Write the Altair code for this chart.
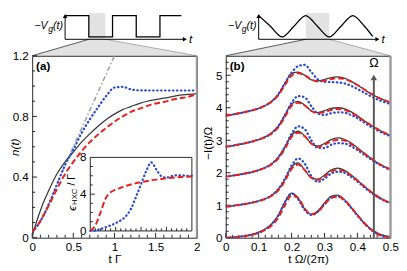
import altair as alt
import pandas as pd

FONT = "Liberation Sans"
INK = "#222222"
BLACK = "#3a3a3a"
RED = "#e8211c"
BLUE = "#2548d8"
GREY = "#9c9c9c"
SHADE = "#e2e2e2"

# ---------------- panel (a): n(t) ----------------
T_A = [0, 0.05, 0.1, 0.15, 0.2, 0.3, 0.4, 0.5, 0.6, 0.7, 0.8, 0.9, 1.0, 1.1, 1.2,
       1.3, 1.4, 1.5, 1.6, 1.7, 1.8, 1.9, 2.0]
N_EXACT = [0.01, 0.10, 0.18, 0.25, 0.31, 0.42, 0.50, 0.565, 0.63, 0.685, 0.735, 0.78,
           0.815, 0.845, 0.865, 0.885, 0.90, 0.91, 0.92, 0.93, 0.94, 0.945, 0.95]
N_RED = [0.04, 0.07, 0.11, 0.16, 0.21, 0.32, 0.42, 0.50, 0.57, 0.63, 0.68, 0.725,
         0.765, 0.80, 0.83, 0.85, 0.87, 0.885, 0.895, 0.91, 0.92, 0.93, 0.948]
N_BLUE = [0.04, 0.07, 0.11, 0.16, 0.22, 0.35, 0.48, 0.58, 0.69, 0.78, 0.86, 0.935,
          0.99, 0.995, 0.978, 0.972, 0.971, 0.971, 0.971, 0.971, 0.971, 0.971, 0.971]
T_GREY = [0, 0.05, 0.1, 0.15, 0.2, 0.3, 0.4, 0.5, 0.6, 0.7, 0.8, 0.9, 1.0]
N_GREY = [0.04, 0.07, 0.11, 0.16, 0.22, 0.35, 0.48, 0.60, 0.72, 0.84, 0.96, 1.08, 1.20]

# inset of (a): eps_HXC / Gamma
T_IN = [0, 0.1, 0.2, 0.3, 0.4, 0.5, 0.6, 0.7, 0.8, 0.9, 1.0, 1.1, 1.2, 1.3, 1.4,
        1.5, 1.6, 1.7, 1.8, 1.9, 2.0]
E_RED = [0.05, 0.6, 2.0, 3.5, 4.2, 4.5, 4.7, 4.9, 5.05, 5.2, 5.3, 5.4, 5.5, 5.58,
         5.65, 5.72, 5.78, 5.83, 5.87, 5.9, 5.93]
E_BLUE = [0.0, 0.05, 0.2, 0.4, 0.6, 0.85, 1.15, 1.6, 2.4, 3.7, 5.1, 6.5, 7.45, 6.7,
          5.95, 5.8, 5.95, 6.05, 6.05, 6.0, 6.0]

# ---------------- panel (b): -I(t)/Omega, five curve families ----------------
X_B = [0, .02, .04, .06, .08, .10, .12, .14, .16, .18, .20, .22, .24, .26, .28,
       .30, .32, .34, .36, .38, .40, .42, .44, .46, .48, .50]

I_EXACT_1 = [0.00, 0.01, 0.03, 0.06, 0.10, 0.17, 0.27, 0.43, 0.70, 1.10, 1.37, 1.22, 0.88,
             0.72, 0.83, 1.07, 1.27, 1.31, 1.18, 0.95, 0.70, 0.47, 0.28, 0.15, 0.07, 0.03]
I_RED_1 = [0.00, 0.01, 0.02, 0.05, 0.09, 0.15, 0.24, 0.38, 0.62, 1.00, 1.30, 1.22, 0.90,
           0.72, 0.80, 1.02, 1.22, 1.27, 1.17, 0.95, 0.70, 0.46, 0.26, 0.12, 0.04, 0.00]
I_BLUE_1 = [0.00, 0.01, 0.03, 0.06, 0.10, 0.16, 0.26, 0.42, 0.69, 1.10, 1.36, 1.18, 0.85,
            0.70, 0.80, 1.03, 1.23, 1.27, 1.15, 0.93, 0.68, 0.45, 0.26, 0.13, 0.05, 0.01]

I_EXACT_2 = [0.95, 0.98, 1.01, 1.04, 1.08, 1.13, 1.20, 1.31, 1.50, 1.80, 2.18, 2.30, 2.08,
             1.84, 1.80, 1.93, 2.08, 2.14, 2.08, 1.94, 1.77, 1.59, 1.42, 1.28, 1.16, 1.08]
I_RED_2 = [0.95, 0.98, 1.01, 1.04, 1.08, 1.13, 1.19, 1.29, 1.46, 1.75, 2.12, 2.25, 2.08,
           1.85, 1.78, 1.88, 2.03, 2.09, 2.05, 1.92, 1.76, 1.59, 1.42, 1.28, 1.16, 1.07]
I_BLUE_2 = [0.95, 0.98, 1.01, 1.04, 1.08, 1.13, 1.20, 1.31, 1.50, 1.82, 2.22, 2.44, 2.28,
            1.90, 1.72, 1.82, 1.97, 2.03, 2.00, 1.88, 1.73, 1.56, 1.40, 1.26, 1.15, 1.06]

I_EXACT_3 = [1.88, 1.91, 1.94, 1.98, 2.02, 2.08, 2.16, 2.28, 2.48, 2.80, 3.16, 3.28, 3.13,
             2.90, 2.82, 2.90, 3.02, 3.07, 3.03, 2.92, 2.77, 2.61, 2.45, 2.31, 2.20, 2.11]
I_RED_3 = [1.88, 1.91, 1.94, 1.98, 2.02, 2.08, 2.15, 2.26, 2.44, 2.74, 3.10, 3.23, 3.12,
           2.90, 2.80, 2.86, 2.97, 3.01, 2.99, 2.89, 2.75, 2.60, 2.45, 2.31, 2.20, 2.10]
I_BLUE_3 = [1.88, 1.91, 1.94, 1.98, 2.02, 2.08, 2.16, 2.28, 2.48, 2.80, 3.20, 3.43, 3.34,
            3.00, 2.76, 2.76, 2.86, 2.91, 2.90, 2.82, 2.70, 2.56, 2.42, 2.29, 2.18, 2.09]

I_EXACT_4 = [2.80, 2.83, 2.87, 2.91, 2.96, 3.02, 3.10, 3.23, 3.44, 3.78, 4.12, 4.20, 4.08,
             3.90, 3.85, 3.91, 3.98, 4.00, 3.97, 3.88, 3.75, 3.61, 3.47, 3.35, 3.24, 3.16]
I_RED_4 = [2.80, 2.83, 2.87, 2.91, 2.96, 3.02, 3.10, 3.21, 3.40, 3.72, 4.06, 4.15, 4.07,
           3.90, 3.84, 3.87, 3.93, 3.96, 3.94, 3.86, 3.74, 3.60, 3.47, 3.35, 3.24, 3.15]
I_BLUE_4 = [2.80, 2.83, 2.87, 2.91, 2.96, 3.02, 3.10, 3.23, 3.44, 3.78, 4.15, 4.36, 4.32,
            4.05, 3.82, 3.78, 3.83, 3.86, 3.85, 3.78, 3.68, 3.55, 3.42, 3.31, 3.21, 3.13]

I_EXACT_5 = [3.75, 3.79, 3.83, 3.87, 3.92, 3.98, 4.07, 4.20, 4.42, 4.76, 5.06, 5.10, 5.00,
             4.86, 4.83, 4.87, 4.93, 4.95, 4.91, 4.82, 4.70, 4.57, 4.44, 4.33, 4.24, 4.17]
I_RED_5 = [3.75, 3.79, 3.83, 3.87, 3.92, 3.98, 4.07, 4.19, 4.39, 4.70, 4.99, 5.06, 5.00,
           4.87, 4.81, 4.83, 4.88, 4.91, 4.89, 4.81, 4.70, 4.57, 4.44, 4.33, 4.24, 4.16]
I_BLUE_5 = [3.75, 3.79, 3.83, 3.87, 3.92, 3.98, 4.07, 4.20, 4.42, 4.76, 5.08, 5.28, 5.32,
            5.10, 4.87, 4.80, 4.79, 4.78, 4.75, 4.68, 4.58, 4.47, 4.36, 4.26, 4.18, 4.12]

# ---------------- schematic gate voltages ----------------
SQ_T = [0, 1, 1, 2, 2, 3, 3, 4, 4, 4.9]
SQ_V = [1, 1, 0.1, 0.1, 1, 1, 0.1, 0.1, 1, 1]
SQ_BAND = [1.0, 1.7]
COS_T = [0, 0.5, 1, 1.5, 2, 2.5, 3, 3.5, 4, 4.5, 4.85]
COS_V = [1, 0.55, 0.1, 0.55, 1, 0.55, 0.1, 0.55, 1, 0.55, 0.12]
COS_BAND = [2.0, 3.0]

TICKS_A_X = [0, 0.5, 1, 1.5, 2]
TICKS_A_Y = [0, 0.4, 0.8, 1.2]
TICKS_B_X = [0, 0.1, 0.2, 0.3, 0.4, 0.5]
TICKS_B_Y = [0, 1, 2, 3, 4, 5]

W, H = 170, 188
HS = 44
LABEL = "'' + datum.value"


def df_xy(xs, ys, **extra):
    d = pd.DataFrame({"x": xs, "y": ys})
    for k, v in extra.items():
        d[k] = v
    return d


def curve(df, X, Y, color, width, dash=None, cap="butt", detail=None):
    kw = dict(color=color, strokeWidth=width, interpolate="monotone", clip=True,
              strokeCap=cap)
    if dash:
        kw["strokeDash"] = dash
    enc = dict(x=X, y=Y)
    if detail:
        enc["detail"] = detail
    return alt.Chart(df).mark_line(**kw).encode(**enc)


def ticks(X, Y, xmaj, xmin, ymaj, ymin):
    out = []
    for vals, L in ((xmaj, 5), (xmin, 3)):
        out.append(alt.Chart(pd.DataFrame({"x": vals})).mark_rule(color=INK, strokeWidth=1)
                   .encode(x=X, y=alt.value(H), y2=alt.value(H - L)))
    for vals, L in ((ymaj, 5), (ymin, 3)):
        out.append(alt.Chart(pd.DataFrame({"y": vals})).mark_rule(color=INK, strokeWidth=1)
                   .encode(y=Y, x=alt.value(0), x2=alt.value(L)))
    return out


def text(df, X, Y, **kw):
    base = dict(font=FONT, fontSize=12, color="black")
    base.update(kw)
    return alt.Chart(df).mark_text(**base).encode(x=X, y=Y, text="s:N")


# ================= panel (a) =================
XA = alt.X("x:Q", scale=alt.Scale(domain=[0, 2], nice=False, zero=False),
           axis=alt.Axis(values=TICKS_A_X, labelExpr=LABEL, title="t Γ", labelFlush=False,
                         titleY=22, titleBaseline="middle", labelPadding=4))
YA = alt.Y("y:Q", scale=alt.Scale(domain=[0, 1.2], nice=False, zero=False),
           axis=alt.Axis(values=TICKS_A_Y, labelExpr=LABEL, title="n(t)", titleFontStyle="italic",
                         titleX=-18, titleY=94, titleAngle=270, titleAlign="center",
                         titleBaseline="middle", labelPadding=4))

minor_a_x = [round(i * 0.1, 2) for i in range(21) if i % 5]
minor_a_y = [round(i * 0.1, 2) for i in range(13) if i % 4]

main_a = alt.layer(
    *ticks(XA, YA, TICKS_A_X, minor_a_x, TICKS_A_Y, minor_a_y),
    curve(df_xy(T_GREY, N_GREY), XA, YA, GREY, 1.5, dash=[5, 2.5, 1.5, 2.5]),
    curve(df_xy(T_A, N_EXACT), XA, YA, BLACK, 1.3),
    curve(df_xy(T_A, N_BLUE), XA, YA, BLUE, 2.3, dash=[0.5, 3.6], cap="round"),
    curve(df_xy(T_A, N_RED), XA, YA, RED, 2, dash=[6, 3]),
    alt.Chart(pd.DataFrame({"x": [2]})).mark_rule(color="#9a9a9a", strokeWidth=2)
    .encode(x=XA, y=alt.value(0), y2=alt.value(H)),
    text(pd.DataFrame({"x": [0.047], "y": [1.133], "s": ["(a)"]}), XA, YA,
         align="left", baseline="middle", fontWeight="bold"),
)

# inset, own scales placed inside panel (a)
XI = alt.X("x:Q", scale=alt.Scale(domain=[-1.1429, 2.0952], nice=False, zero=False), axis=None)
YI = alt.Y("y:Q", scale=alt.Scale(domain=[-0.737, 19.05], nice=False, zero=False), axis=None)

box = alt.Chart(pd.DataFrame({"x": [0], "x2": [2], "y": [0], "y2": [8]})).mark_rect(
    fill="white", stroke=INK, strokeWidth=1).encode(x=XI, x2="x2:Q", y=YI, y2="y2:Q")


def inset_ticks():
    out = []
    for vals, L in (([0.5, 1, 1.5], 0.45), ([round(i * 0.1, 2) for i in range(1, 20) if i % 5], 0.28)):
        d = pd.DataFrame({"x": vals, "y": 0.0, "y2": L})
        out.append(alt.Chart(d).mark_rule(color=INK, strokeWidth=1)
                   .encode(x=XI, y=YI, y2="y2:Q"))
    for vals, L in (([4], 0.09), ([1, 2, 3, 5, 6, 7], 0.05)):
        d = pd.DataFrame({"y": vals, "x": 0.0, "x2": L})
        out.append(alt.Chart(d).mark_rule(color=INK, strokeWidth=1)
                   .encode(y=YI, x=XI, x2="x2:Q"))
    return out


inset = alt.layer(
    box,
    *inset_ticks(),
    curve(df_xy(T_IN, E_BLUE), XI, YI, BLUE, 2.3, dash=[0.5, 3.6], cap="round"),
    curve(df_xy(T_IN, E_RED), XI, YI, RED, 2, dash=[6, 3]),
    text(pd.DataFrame({"x": [0, 0, 0], "y": [0, 4, 8], "s": ["0", "4", "8"]}), XI, YI,
         align="right", baseline="middle", dx=-4),
    text(pd.DataFrame({"x": [-0.352], "y": [2.2], "s": ["ϵ"]}), XI, YI,
         angle=270, align="left", baseline="middle", fontStyle="italic"),
    text(pd.DataFrame({"x": [-0.352], "y": [2.2], "s": ["HXC"]}), XI, YI,
         angle=270, align="left", baseline="middle", fontSize=8, dx=6, dy=3),
    text(pd.DataFrame({"x": [-0.352], "y": [2.2], "s": ["/ Γ"]}), XI, YI,
         angle=270, align="left", baseline="middle", fontSize=11, dx=26),
)

panel_a = alt.layer(main_a, inset).resolve_scale(x="independent", y="independent").properties(
    width=W, height=H)

# ================= panel (b) =================
XB = alt.X("x:Q", scale=alt.Scale(domain=[0, 0.5], nice=False, zero=False),
           axis=alt.Axis(values=TICKS_B_X, labelExpr=LABEL, title="t Ω/(2π)", labelFlush=False,
                         titleY=22, titleBaseline="middle", labelPadding=4))
YB = alt.Y("y:Q", scale=alt.Scale(domain=[0, 5.6], nice=False, zero=False),
           axis=alt.Axis(values=TICKS_B_Y, labelExpr=LABEL, title="−I(t)/Ω",
                         titleX=-19, titleY=90, titleAngle=270, titleAlign="center",
                         titleBaseline="middle", labelPadding=4))

minor_b_x = [round(i * 0.02, 2) for i in range(26) if i % 5]
minor_b_y = [round(i * 0.2, 2) for i in range(28) if i % 5]


def family(groups):
    return pd.concat([df_xy(X_B, ys, g=k) for k, ys in enumerate(groups)], ignore_index=True)


exact_b = family([I_EXACT_1, I_EXACT_2, I_EXACT_3, I_EXACT_4, I_EXACT_5])
red_b = family([I_RED_1, I_RED_2, I_RED_3, I_RED_4, I_RED_5])
blue_b = family([I_BLUE_1, I_BLUE_2, I_BLUE_3, I_BLUE_4, I_BLUE_5])

panel_b = alt.layer(
    *ticks(XB, YB, TICKS_B_X, minor_b_x, TICKS_B_Y, minor_b_y),
    curve(exact_b, XB, YB, BLACK, 1.3, detail="g:N"),
    curve(blue_b, XB, YB, BLUE, 2.3, dash=[0.5, 3.6], cap="round", detail="g:N"),
    curve(red_b, XB, YB, RED, 2, dash=[6, 3], detail="g:N"),
    alt.Chart(pd.DataFrame({"x": [0.45], "y": [0.0], "y2": [4.85]})).mark_rule(
        color="#555555", strokeWidth=2).encode(x=XB, y=YB, y2="y2:Q"),
    alt.Chart(pd.DataFrame({"x": [0.45], "y": [4.93]})).mark_point(
        shape="triangle-up", filled=True, size=45, color="#555555", opacity=1).encode(x=XB, y=YB),
    text(pd.DataFrame({"x": [0.45], "y": [5.38], "s": ["Ω"]}), XB, YB,
         align="center", baseline="middle", fontSize=13),
    alt.Chart(pd.DataFrame({"x": [0.5]})).mark_rule(color="#9a9a9a", strokeWidth=2)
    .encode(x=XB, y=alt.value(0), y2=alt.value(H)),
    text(pd.DataFrame({"x": [0.012], "y": [5.27], "s": ["(b)"]}), XB, YB,
         align="left", baseline="middle", fontWeight="bold"),
).properties(width=W, height=H)


# ================= schematics =================
def schematic(dom, wave_t, wave_v, band, interp, lab_x):
    SX = alt.X("x:Q", scale=alt.Scale(domain=dom, nice=False, zero=False), axis=None)
    SY = alt.Y("y:Q", scale=alt.Scale(domain=[-0.694, 1.102], nice=False, zero=False), axis=None)
    trap = pd.DataFrame({"x": [dom[0], band[0], band[1], dom[1]],
                         "y": [-0.694, 0, 0, -0.694], "y0": -0.694})
    layers = [
        alt.Chart(trap).mark_area(color=SHADE, opacity=1).encode(x=SX, y=SY, y2="y0:Q"),
        alt.Chart(pd.DataFrame({"x": [band[0]], "x2": [band[1]], "y": [0], "y2": [1.102]}))
        .mark_rect(color=SHADE, opacity=1).encode(x=SX, x2="x2:Q", y=SY, y2="y2:Q"),
        alt.Chart(pd.DataFrame({"x": [dom[0]], "y": [-0.694], "x2": [band[0]], "y2": [0]}))
        .mark_rule(color="#555555", strokeWidth=1).encode(x=SX, y=SY, x2="x2:Q", y2="y2:Q"),
        alt.Chart(pd.DataFrame({"x": [band[1]], "y": [0], "x2": [dom[1]], "y2": [-0.694]}))
        .mark_rule(color="#aaaaaa", strokeWidth=1).encode(x=SX, y=SY, x2="x2:Q", y2="y2:Q"),
        alt.Chart(pd.DataFrame({"x": [0], "y": [0], "x2": [5.0], "y2": [0]}))
        .mark_rule(color="black", strokeWidth=1).encode(x=SX, y=SY, x2="x2:Q", y2="y2:Q"),
        alt.Chart(pd.DataFrame({"x": [0], "y": [0], "x2": [0], "y2": [1.0]}))
        .mark_rule(color="black", strokeWidth=1).encode(x=SX, y=SY, x2="x2:Q", y2="y2:Q"),
        alt.Chart(pd.DataFrame({"x": [5.05], "y": [0]})).mark_point(
            shape="triangle-right", filled=True, size=22, color="black", opacity=1).encode(x=SX, y=SY),
        alt.Chart(pd.DataFrame({"x": [0], "y": [0.98]})).mark_point(
            shape="triangle-up", filled=True, size=22, color="black", opacity=1).encode(x=SX, y=SY),
        alt.Chart(pd.DataFrame({"x": wave_t, "y": wave_v, "i": list(range(len(wave_t)))}))
        .mark_line(color="black", strokeWidth=1.3, interpolate=interp)
        .encode(x=SX, y=SY, order="i:Q"),
        text(pd.DataFrame({"x": [5.22], "y": [0], "s": ["t"]}), SX, SY,
             align="left", baseline="middle", fontStyle="italic"),
        text(pd.DataFrame({"x": [lab_x], "y": [0.55], "s": ["−V"]}), SX, SY,
             align="right", baseline="middle", fontStyle="italic", fontSize=11),
        text(pd.DataFrame({"x": [lab_x], "y": [0.55], "s": ["g"]}), SX, SY,
             align="left", baseline="middle", fontStyle="italic", fontSize=9, dx=0.5, dy=3),
        text(pd.DataFrame({"x": [lab_x], "y": [0.55], "s": ["(t)"]}), SX, SY,
             align="left", baseline="middle", fontStyle="italic", fontSize=11, dx=5.5),
    ]
    return alt.layer(*layers).properties(width=W, height=HS, view={"stroke": "transparent"})


schem_a = schematic([-1.388, 5.551], SQ_T, SQ_V, SQ_BAND, "linear", -0.735)
schem_b = schematic([-1.399, 5.597], COS_T, COS_V, COS_BAND, "monotone", -0.741)

chart = alt.concat(schem_a, schem_b, panel_a, panel_b, columns=2,
                   spacing={"row": 0, "column": 30}, bounds="flush").properties(
    padding=0
).configure_view(stroke=INK, strokeWidth=1).configure_axis(
    labelFont=FONT, titleFont=FONT, labelFontSize=12, titleFontSize=12,
    ticks=False, domain=False, grid=False, labelColor="black", titleColor="black",
    titleFontWeight="normal"
)

chart.save("out.html", embed_options={"renderer": "svg", "actions": False})
